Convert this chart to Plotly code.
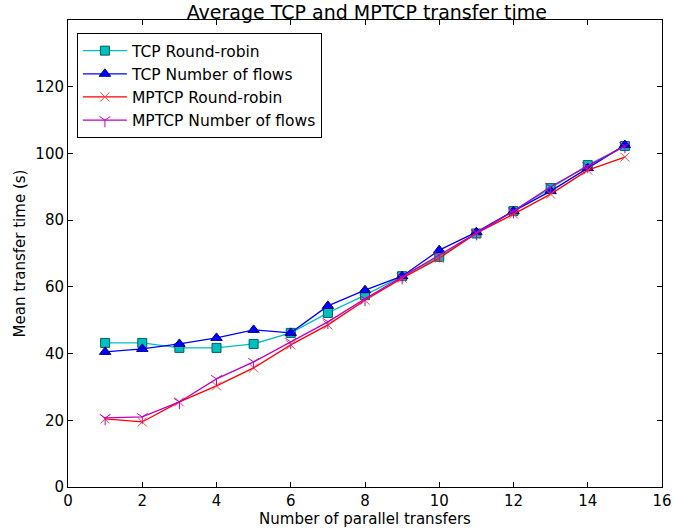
import plotly.graph_objects as go

x = list(range(1, 16))
tcp_rr = [43.2, 43.2, 41.7, 41.7, 42.9, 46.2, 52.2, 57.5, 63.2, 69.0, 76.0, 82.7, 89.6, 96.5, 102.2]
tcp_nf = [40.5, 41.4, 42.9, 44.7, 47.1, 46.2, 54.3, 59.0, 63.2, 71.0, 76.4, 82.7, 88.7, 95.6, 102.5]
mptcp_rr = [20.4, 19.5, 25.5, 30.3, 35.7, 42.6, 48.6, 56.0, 62.6, 68.6, 76.1, 81.8, 87.8, 95.0, 98.9]
mptcp_nf = [20.7, 21.0, 25.5, 32.4, 37.5, 43.5, 49.5, 56.4, 62.9, 69.5, 76.1, 82.7, 90.0, 96.2, 102.2]

fig = go.Figure()
fig.add_trace(go.Scatter(x=x, y=tcp_rr, name="TCP Round-robin", mode="lines+markers",
                         line=dict(color="#00bfbf", width=1.3),
                         marker=dict(symbol="square", size=9, color="#00bfbf",
                                     line=dict(color="#005f5f", width=1))))
fig.add_trace(go.Scatter(x=x, y=tcp_nf, name="TCP Number of flows", mode="lines+markers",
                         line=dict(color="#0000ff", width=1.3),
                         marker=dict(symbol="triangle-up", size=10, color="#0000ff",
                                     line=dict(color="#000080", width=1))))
fig.add_trace(go.Scatter(x=x, y=mptcp_rr, name="MPTCP Round-robin", mode="lines+markers",
                         line=dict(color="#ff0000", width=1.3),
                         marker=dict(symbol="x-thin", size=9, color="#ff0000",
                                     line=dict(color="#ff4040", width=1))))
fig.add_trace(go.Scatter(x=x, y=mptcp_nf, name="MPTCP Number of flows", mode="lines+markers",
                         line=dict(color="#bf00bf", width=1.3),
                         marker=dict(symbol="y-down", size=9, color="#bf00bf",
                                     line=dict(color="#bf00bf", width=1))))

axis_common = dict(showline=True, linecolor="black", linewidth=1, mirror="ticks",
                   ticks="inside", ticklen=5, tickcolor="black", showgrid=False,
                   zeroline=False, automargin=False, tickfont=dict(size=15, color="black"))

fig.update_layout(
    width=673, height=529,
    margin=dict(l=68, r=11, t=20, b=42),
    paper_bgcolor="white", plot_bgcolor="white",
    font=dict(family="DejaVu Sans", color="black"),
    title=dict(text="Average TCP and MPTCP transfer time", x=0.545, xanchor="center",
               y=0.977, yanchor="middle", font=dict(size=19)),
    xaxis=dict(range=[0, 16], dtick=2, title=dict(text="Number of parallel transfers", font=dict(size=15), standoff=4), **axis_common),
    yaxis=dict(range=[0, 140], tickvals=[0, 20, 40, 60, 80, 100, 120],
               title=dict(text="Mean transfer time (s)", font=dict(size=15), standoff=6), **axis_common),
    showlegend=True,
    legend=dict(x=0.015, y=0.972, xanchor="left", yanchor="top", bgcolor="white",
                bordercolor="black", borderwidth=1, font=dict(size=15.5), tracegroupgap=0,
                itemwidth=44),
)

fig.write_html("out.html")
